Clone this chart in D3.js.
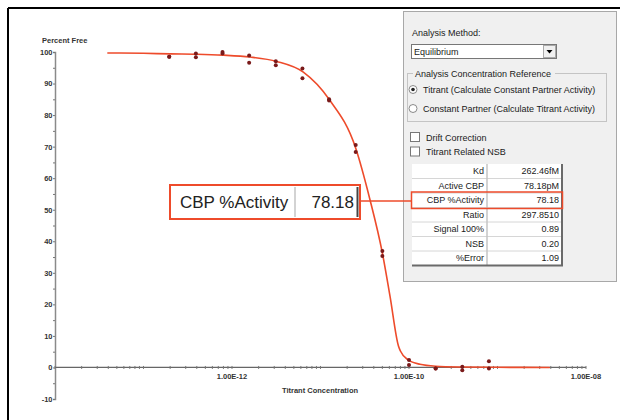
<!DOCTYPE html>
<html>
<head>
<meta charset="utf-8">
<script src="https://cdn.jsdelivr.net/npm/d3@7"></script>
<style>
  body { margin: 0; background: #fff; }
  svg { display: block; }
  text { font-family: "Liberation Sans", Arial, sans-serif; }
  .axis text { font-size: 7.5px; font-weight: bold; fill: #333; }
  .panel text { font-size: 9px; fill: #1a1a1a; }
</style>
</head>
<body>
<script>

// titrant concentrations (M), two replicates per concentration
var conc = [1.953e-13, 3.906e-13, 7.8125e-13, 1.5625e-12, 3.125e-12, 6.25e-12,
            1.25e-11, 2.5e-11, 5e-11, 1e-10, 2e-10, 4e-10, 8e-10];
var rep1 = [98.5, 99.5, 100.0, 98.9, 97.1, 94.8, 85.0, 70.5, 36.9, 2.4, -0.3, 0.2, 2.0];
var rep2 = [98.5, 98.3, 99.5, 96.6, 95.8, 91.7, 84.6, 68.3, 35.3, 0.8, -0.3, -0.9, -0.3];

// fitted curve
var curveConc = [3.9e-14, 1e-13, 2e-13, 4e-13, 8e-13, 1.6e-12, 3.2e-12, 6.4e-12, 1.25e-11,
                 2.5e-11, 3.6e-11, 5e-11, 6.1e-11, 7.6e-11, 8e-11, 9.8e-11, 1.33e-10,
                 2e-10, 4e-10, 1e-9, 3.9e-9];
var curveVal = [99.7, 99.6, 99.4, 99.3, 99.0, 98.4, 97.0, 93.6, 85.0,
                69.5, 53.5, 36.3, 22.6, 6.8, 5.2, 2.4, 1.0,
                0.4, 0.15, 0.05, 0.0];

var yTicks = [-10, 0, 10, 20, 30, 40, 50, 60, 70, 80, 90, 100];
var xTickVals = [1e-12, 1e-10, 1e-8];
var xTickLabels = ["1.00E-12", "1.00E-10", "1.00E-08"];

// analysis results table
var resultNames = ["Kd", "Active CBP", "CBP %Activity", "Ratio", "Signal 100%", "NSB", "%Error"];
var resultValues = ["262.46fM", "78.18pM", "78.18", "297.8510", "0.89", "0.20", "1.09"];

var width = 620, height = 420;
var red = "#ee4b2b";

var svg = d3.select("body")
    .append("svg")
    .attr("width", width)
    .attr("height", height);

// frame (top and left edges show)
svg.append("line").attr("x1", 8).attr("x2", 620).attr("y1", 8).attr("y2", 8)
    .attr("stroke", "#000").attr("stroke-width", 2);
svg.append("line").attr("x1", 8).attr("x2", 8).attr("y1", 8).attr("y2", 420)
    .attr("stroke", "#000").attr("stroke-width", 2);

// scales
var x = d3.scaleLog().domain([1e-14, 1e-8]).range([55, 586]);
var y = d3.scaleLinear().domain([-10, 100]).range([399, 52]);

var plot = svg.append("g").attr("class", "axis");

// y axis
var yAxis = d3.axisLeft(y)
    .tickValues(d3.range(-10, 101, 5))
    .tickSize(2)
    .tickFormat(function(d) { return yTicks.indexOf(d) >= 0 ? d : ""; });

var gY = plot.append("g")
    .attr("transform", "translate(55,0)")
    .call(yAxis);
gY.select(".domain").attr("stroke", "#8a8a8a").attr("stroke-width", 1.5);
gY.selectAll(".tick line").attr("stroke", "#777");
gY.selectAll(".tick text").attr("x", -2.5);

// x axis at zero, with minor ticks each decade
var minor = [];
for (var e = -14; e < -8; e++) {
  for (var m = 1; m < 10; m++) minor.push(m * Math.pow(10, e));
}
minor.push(1e-8);

var gX = plot.append("g").attr("transform", "translate(0," + y(0) + ")");
gX.append("line")
    .attr("x1", x(1e-14)).attr("x2", x(1e-8))
    .attr("stroke", "#666").attr("stroke-width", 1.2);
gX.selectAll(".mt")
    .data(minor)
  .enter().append("line")
    .attr("class", "mt")
    .attr("x1", function(d) { return x(d); })
    .attr("x2", function(d) { return x(d); })
    .attr("y1", -1.5).attr("y2", 1.5)
    .attr("stroke", "#777");
gX.selectAll(".xl")
    .data(xTickVals)
  .enter().append("text")
    .attr("class", "xl")
    .attr("x", function(d) { return x(d); })
    .attr("y", 12)
    .attr("text-anchor", "middle")
    .text(function(d, i) { return xTickLabels[i]; });

// axis titles
plot.append("text").attr("x", 42).attr("y", 42.5).text("Percent Free");
plot.append("text").attr("x", 320).attr("y", 393).attr("text-anchor", "middle")
    .text("Titrant Concentration");

// fitted curve
var line = d3.line()
    .x(function(d) { return x(d[0]); })
    .y(function(d) { return y(d[1]); })
    .curve(d3.curveMonotoneX);

svg.append("path")
    .datum(d3.zip(curveConc, curveVal))
    .attr("d", line)
    .attr("fill", "none")
    .attr("stroke", red)
    .attr("stroke-width", 1.6);

// replicate points
var pts = d3.zip(conc, rep1).concat(d3.zip(conc, rep2));
svg.selectAll(".pt")
    .data(pts)
  .enter().append("circle")
    .attr("class", "pt")
    .attr("cx", function(d) { return x(d[0]); })
    .attr("cy", function(d) { return y(d[1]); })
    .attr("r", 2)
    .attr("fill", "#7a1a1a");

// ---- analysis panel ----
var panel = svg.append("g").attr("class", "panel");

panel.append("rect")
    .attr("x", 403.5).attr("y", 11.5).attr("width", 213).attr("height", 270)
    .attr("fill", "#f0f0f0").attr("stroke", "#a8a8a8");

panel.append("text").attr("x", 412).attr("y", 36).text("Analysis Method:");

// dropdown
panel.append("rect")
    .attr("x", 411.5).attr("y", 44.5).attr("width", 145).attr("height", 14)
    .attr("fill", "#fff").attr("stroke", "#777");
panel.append("rect")
    .attr("x", 543.5).attr("y", 45.5).attr("width", 12).attr("height", 12)
    .attr("fill", "#f0f0f0").attr("stroke", "#aaa");
panel.append("path").attr("d", "M546.5,50 L552.5,50 L549.5,53.5 Z").attr("fill", "#000");
panel.append("text").attr("x", 414).attr("y", 55).text("Equilibrium");

// group box
panel.append("rect")
    .attr("x", 407.5).attr("y", 73.5).attr("width", 199).attr("height", 48)
    .attr("fill", "none").attr("stroke", "#c4c4c4");
panel.append("rect")
    .attr("x", 413).attr("y", 68).attr("width", 142).attr("height", 10)
    .attr("fill", "#f0f0f0");
panel.append("text").attr("x", 415).attr("y", 76.5).text("Analysis Concentration Reference");

var radios = ["Titrant (Calculate Constant Partner Activity)",
              "Constant Partner (Calculate Titrant Activity)"];
radios.forEach(function(t, i) {
  var cy = 89.5 + i * 19;
  panel.append("circle").attr("cx", 413).attr("cy", cy).attr("r", 4)
      .attr("fill", "#fff").attr("stroke", "#8a8a8a");
  if (i == 0) {
    panel.append("circle").attr("cx", 413).attr("cy", cy).attr("r", 1.8).attr("fill", "#222");
  }
  panel.append("text").attr("x", 423).attr("y", cy + 3.2).text(t);
});

// checkboxes
var checks = ["Drift Correction", "Titrant Related NSB"];
checks.forEach(function(t, i) {
  var cy = 132.5 + i * 14.5;
  panel.append("rect").attr("x", 410.5).attr("y", cy).attr("width", 9).attr("height", 9)
      .attr("fill", "#fff").attr("stroke", "#777");
  panel.append("text").attr("x", 426).attr("y", cy + 8).text(t);
});

// results table
var tx = 412, ty = 164, rowH = 14.5, colW = [75, 75];
var table = panel.append("g");
table.append("rect")
    .attr("x", tx).attr("y", ty).attr("width", colW[0] + colW[1]).attr("height", rowH * resultNames.length)
    .attr("fill", "#fff");
resultNames.forEach(function(n, i) {
  var ry = ty + i * rowH;
  if (i > 0) {
    table.append("line").attr("x1", tx).attr("x2", tx + colW[0] + colW[1])
        .attr("y1", ry).attr("y2", ry).attr("stroke", "#d6d6d6");
  }
  table.append("text").attr("x", tx + colW[0] - 3).attr("y", ry + rowH / 2 + 3.2)
      .attr("text-anchor", "end").text(n);
  table.append("text").attr("x", tx + colW[0] + colW[1] - 3).attr("y", ry + rowH / 2 + 3.2)
      .attr("text-anchor", "end").text(resultValues[i]);
});
table.append("line").attr("x1", tx + colW[0]).attr("x2", tx + colW[0])
    .attr("y1", ty).attr("y2", ty + rowH * 7).attr("stroke", "#c4c4c4").attr("stroke-width", 1.5);
table.append("path")
    .attr("d", "M" + (tx + 150) + "," + ty + " V" + (ty + rowH * 7) + " H" + tx)
    .attr("fill", "none").attr("stroke", "#6a6a6a").attr("stroke-width", 2);

// highlight on CBP %Activity row
var hi = resultNames.indexOf("CBP %Activity");
table.append("rect")
    .attr("x", tx - 0.5).attr("y", ty + hi * rowH - 1).attr("width", 151).attr("height", rowH + 2)
    .attr("fill", "none").attr("stroke", red).attr("stroke-width", 1.5);

// ---- enlarged callout ----
var call = svg.append("g");
call.append("line").attr("x1", 360).attr("x2", tx).attr("y1", 201).attr("y2", 201)
    .attr("stroke", red).attr("stroke-width", 1.5);
call.append("rect")
    .attr("x", 170).attr("y", 185).attr("width", 190).attr("height", 34)
    .attr("fill", "#fff").attr("stroke", red).attr("stroke-width", 2);
call.append("line").attr("x1", 295).attr("x2", 295).attr("y1", 187).attr("y2", 217)
    .attr("stroke", "#c4c4c4").attr("stroke-width", 1.5);
call.append("line").attr("x1", 357.5).attr("x2", 357.5).attr("y1", 187).attr("y2", 217)
    .attr("stroke", "#444").attr("stroke-width", 2);
call.append("text").attr("x", 180).attr("y", 208).style("font-size", "17px").attr("fill", "#222")
    .text(resultNames[hi]);
call.append("text").attr("x", 354).attr("y", 208).attr("text-anchor", "end")
    .style("font-size", "17px").attr("fill", "#222")
    .text(resultValues[hi]);

</script>
</body>
</html>
